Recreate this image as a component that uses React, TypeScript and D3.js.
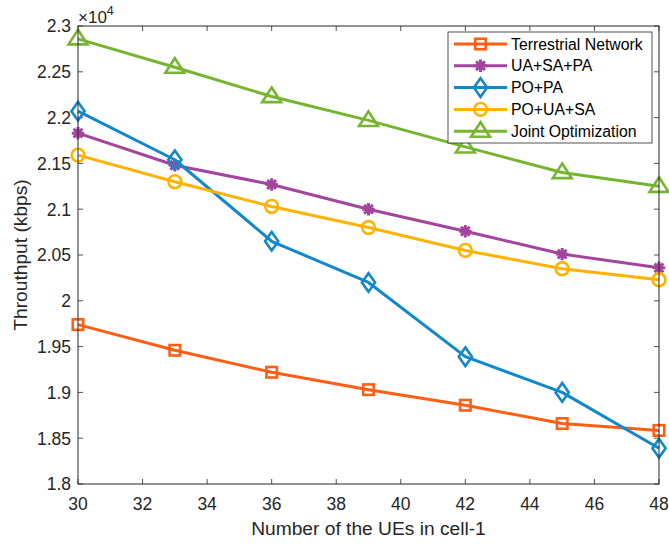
import React from "react";
import * as d3 from "d3";

const xValues = [30, 33, 36, 39, 42, 45, 48];
const terrestrial = [19740, 19460, 19220, 19030, 18860, 18660, 18585];
const uaSaPa = [21830, 21480, 21270, 21000, 20760, 20510, 20360];
const poPa = [22070, 21540, 20650, 20200, 19390, 19000, 18390];
const poUaSa = [21590, 21300, 21030, 20800, 20550, 20350, 20230];
const joint = [22860, 22550, 22230, 21970, 21680, 21400, 21250];

const xTicks = [30, 32, 34, 36, 38, 40, 42, 44, 46, 48];
const yTicks = [18000, 18500, 19000, 19500, 20000, 20500, 21000, 21500, 22000, 22500, 23000];
const yTickLabels = ["1.8", "1.85", "1.9", "1.95", "2", "2.05", "2.1", "2.15", "2.2", "2.25", "2.3"];

const seriesNames = ["Terrestrial Network", "UA+SA+PA", "PO+PA", "PO+UA+SA", "Joint Optimization"];
const seriesData = [terrestrial, uaSaPa, poPa, poUaSa, joint];
const seriesColors = ["#FF5F15", "#A3449F", "#1288CC", "#FFB300", "#76B52F"];
const seriesMarkers = ["square", "star", "diamond", "circle", "triangle"];

const W = 669, H = 544;
const L = 78, R = 659, T = 26, B = 484;
const FONT = "'Liberation Sans', Arial, Helvetica, sans-serif";
const AX = "#262626";

function Marker({ type, x, y, color }: { type: string; x: number; y: number; color: string }) {
  const sw = 2.6;
  if (type === "square") {
    const s = 10.5;
    return <rect x={x - s / 2} y={y - s / 2} width={s} height={s} fill="none" stroke={color} strokeWidth={sw} />;
  }
  if (type === "circle") {
    return <circle cx={x} cy={y} r={6.4} fill="none" stroke={color} strokeWidth={sw} />;
  }
  if (type === "diamond") {
    return <path d={`M${x},${y - 9.3}L${x + 6.6},${y}L${x},${y + 9.3}L${x - 6.6},${y}Z`} fill="none" stroke={color} strokeWidth={sw} />;
  }
  if (type === "triangle") {
    const s = 9;
    return <path d={`M${x},${y - s}L${x + s * 1.05},${y + s * 0.62}L${x - s * 1.05},${y + s * 0.62}Z`} fill="none" stroke={color} strokeWidth={sw} />;
  }
  const r = 6.2;
  const lines = [0, 45, 90, 135].map((a) => {
    const rad = (a * Math.PI) / 180;
    return `M${x - r * Math.cos(rad)},${y - r * Math.sin(rad)}L${x + r * Math.cos(rad)},${y + r * Math.sin(rad)}`;
  });
  return <path d={lines.join("")} fill="none" stroke={color} strokeWidth={3} />;
}

export default function App() {
  const x = d3.scaleLinear().domain([30, 48]).range([L, R]);
  const y = d3.scaleLinear().domain([18000, 23000]).range([B, T]);
  const line = d3.line<number>().x((_, i) => x(xValues[i])).y((d) => y(d));

  const legX = 448, legY = 32, legW = 204, legH = 111;
  const rowH = 21.8;

  return (
    <svg width={W} height={H} style={{ position: "absolute", left: 0, top: 0, background: "#fff" }} fontFamily={FONT}>
      <rect x={0} y={0} width={W} height={H} fill="#fff" />
      {xTicks.map((t) => (
        <g key={"xt" + t}>
          <line x1={x(t)} x2={x(t)} y1={B} y2={B - 5} stroke={AX} strokeWidth={0.8} />
          <line x1={x(t)} x2={x(t)} y1={T} y2={T + 5} stroke={AX} strokeWidth={0.8} />
          <text x={x(t)} y={B + 26} textAnchor="middle" fontSize={17.5} fill={AX}>{t}</text>
        </g>
      ))}
      {yTicks.map((t, i) => (
        <g key={"yt" + t}>
          <line x1={L} x2={L + 5} y1={y(t)} y2={y(t)} stroke={AX} strokeWidth={0.8} />
          <line x1={R} x2={R - 5} y1={y(t)} y2={y(t)} stroke={AX} strokeWidth={0.8} />
          <text x={L - 7} y={y(t) + 6.3} textAnchor="end" fontSize={17.5} fill={AX}>{yTickLabels[i]}</text>
        </g>
      ))}
      {seriesData.map((data, si) => (
        <g key={"s" + si}>
          <path d={line(data) || ""} fill="none" stroke={seriesColors[si]} strokeWidth={3} strokeLinejoin="round" />
          {data.map((v, i) => (
            <Marker key={i} type={seriesMarkers[si]} x={x(xValues[i])} y={y(v)} color={seriesColors[si]} />
          ))}
        </g>
      ))}
      <rect x={L} y={T} width={R - L} height={B - T} fill="none" stroke={AX} strokeWidth={1} />
      <text x={L} y={T - 3} fontSize={17} fill={AX}>
        ×10<tspan dy={-8} fontSize={12.5}>4</tspan>
      </text>
      <text x={(L + R) / 2} y={535} textAnchor="middle" fontSize={19.2} fill={AX}>Number of the UEs in cell-1</text>
      <text transform={`translate(27,${(T + B) / 2}) rotate(-90)`} textAnchor="middle" fontSize={19.2} fill={AX}>Throuthput (kbps)</text>
      <rect x={legX} y={legY} width={legW} height={legH} fill="#fff" stroke={AX} strokeWidth={0.8} />
      {seriesNames.map((name, i) => {
        const cy = legY + 12 + i * rowH;
        return (
          <g key={"l" + i}>
            <line x1={454} x2={507} y1={cy} y2={cy} stroke={seriesColors[i]} strokeWidth={3} />
            <Marker type={seriesMarkers[i]} x={480.5} y={cy} color={seriesColors[i]} />
            <text x={511} y={cy + 5.6} fontSize={15.8} fill="#000">{name}</text>
          </g>
        );
      })}
    </svg>
  );
}
